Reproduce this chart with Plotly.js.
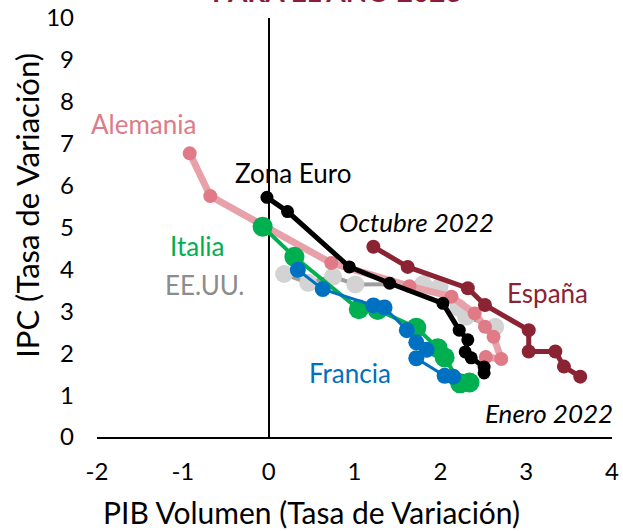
<!DOCTYPE html>
<html>
<head>
<meta charset="utf-8">
<script src="https://cdn.plot.ly/plotly-3.0.1.min.js"></script>
<style>html,body{margin:0;padding:0;background:#fff;}#chart{width:623px;height:531px;}</style>
</head>
<body>
<div id="chart"></div>
<script>
// PIB (x) vs IPC (y) forecast paths for 2023
const eeuuX = [0.18, 0.46, 0.75, 1.01, 1.80, 1.99, 2.21, 2.30, 2.64];
const eeuuY = [3.89, 3.68, 3.83, 3.64, 3.65, 3.58, 3.09, 2.87, 2.63];

const alemaniaX = [-0.92, -0.68, 0.73, 1.64, 2.13, 2.40, 2.52, 2.62, 2.71, 2.53];
const alemaniaY = [6.77, 5.75, 4.15, 3.60, 3.35, 2.95, 2.63, 2.39, 1.86, 1.91];

const espanaX = [1.22, 1.62, 2.32, 2.52, 3.03, 3.03, 3.34, 3.44, 3.63];
const espanaY = [4.54, 4.06, 3.55, 3.15, 2.55, 2.04, 2.04, 1.68, 1.44];

const zonaEuroX = [-0.02, 0.22, 0.94, 1.41, 2.03, 2.22, 2.32, 2.29, 2.36, 2.51, 2.51];
const zonaEuroY = [5.72, 5.38, 4.06, 3.67, 3.19, 2.55, 2.32, 2.03, 1.89, 1.67, 1.53];

const italiaX = [-0.07, 0.30, 1.05, 1.27, 1.72, 1.97, 2.05, 2.23, 2.34];
const italiaY = [5.02, 4.30, 3.05, 3.03, 2.61, 2.12, 1.90, 1.28, 1.30];

const franciaX = [0.34, 0.63, 1.22, 1.35, 1.61, 1.72, 1.84, 1.72, 2.05, 2.15];
const franciaY = [3.99, 3.53, 3.14, 3.09, 2.55, 2.26, 2.08, 1.88, 1.46, 1.44];

const xTickVals = [-2, -1, 0, 1, 2, 3, 4];
const xTickText = ['-2', '-1', '0', '1', '2', '3', '4'];
const yTickVals = [0, 1, 2, 3, 4, 5, 6, 7, 8, 9, 10];
const yTickText = ['0', '1', '2', '3', '4', '5', '6', '7', '8', '9', '10'];

const FONT = 'Lato, "Open Sans", sans-serif';

function series(x, y, lineColor, markerColor, lw, ms, name) {
  return {
    type: 'scatter', mode: 'lines+markers', name: name, x: x, y: y,
    line: {color: lineColor, width: lw},
    marker: {color: markerColor, size: ms},
    hoverinfo: 'skip', cliponaxis: false
  };
}

const data = [
  series(eeuuX, eeuuY, '#9E9E9E', '#D3D3D3', 4, 18, 'EE.UU.'),
  series(alemaniaX, alemaniaY, '#E8A1A9', '#E07A86', 7, 14, 'Alemania'),
  series(espanaX, espanaY, '#8B2332', '#8B2332', 5, 14, 'España'),
  series(zonaEuroX, zonaEuroY, '#000000', '#000000', 5, 13, 'Zona Euro'),
  series(italiaX, italiaY, '#00B050', '#00B050', 4, 20, 'Italia'),
  series(franciaX, franciaY, '#0070C0', '#0070C0', 3, 16, 'Francia')
];

function lab(text, x, y, color, italic) {
  return {
    text: italic ? '<i>' + text + '</i>' : text,
    x: x, y: y, xref: 'x', yref: 'y', showarrow: false,
    font: {family: FONT, size: 26, color: color},
    xanchor: 'center', yanchor: 'middle'
  };
}

const layout = {
  width: 623, height: 531,
  margin: {l: 97, r: 11, t: 18, b: 94},
  paper_bgcolor: '#ffffff', plot_bgcolor: '#ffffff',
  showlegend: false,
  font: {family: FONT, color: '#000'},
  xaxis: {
    range: [-2, 4], tickvals: xTickVals, ticktext: xTickText,
    showgrid: false, zeroline: true, zerolinecolor: '#000', zerolinewidth: 2,
    showline: true, linecolor: '#000', linewidth: 2,
    ticks: '', ticklabelstandoff: 12,
    tickfont: {family: FONT, size: 24, color: '#000'}
  },
  yaxis: {
    range: [0, 10], tickvals: yTickVals, ticktext: yTickText,
    showgrid: false, zeroline: false, showline: false,
    ticks: '', ticklabelstandoff: 22,
    tickfont: {family: FONT, size: 24, color: '#000'}
  },
  annotations: [
    lab('Alemania', -1.46, 7.47, '#E07A86', false),
    lab('Zona Euro', 0.28, 6.30, '#000000', false),
    lab('Octubre 2022', 1.72, 5.13, '#000000', true),
    lab('Italia', -0.84, 4.56, '#00B050', false),
    lab('EE.UU.', -0.74, 3.63, '#8C8C8C', false),
    lab('España', 3.25, 3.44, '#8B2332', false),
    lab('Francia', 0.95, 1.53, '#0070C0', false),
    lab('Enero 2022', 3.27, 0.57, '#000000', true),
    {
      text: 'IPC (Tasa de Variación)', textangle: -90,
      x: -0.136, y: 0.554, xref: 'paper', yref: 'paper', showarrow: false,
      font: {family: FONT, size: 31, color: '#000'}, xanchor: 'center', yanchor: 'middle'
    },
    {
      text: 'PIB Volumen (Tasa de Variación)',
      x: 0.417, y: -0.179, xref: 'paper', yref: 'paper', showarrow: false,
      font: {family: FONT, size: 30, color: '#000'}, xanchor: 'center', yanchor: 'middle'
    },
    {
      text: '<b>PARA EL AÑO 2023</b>',
      x: 0.466, y: 1.02, xref: 'paper', yref: 'paper', showarrow: false,
      font: {family: FONT, size: 28, color: '#8B1A3B'}, xanchor: 'center', yanchor: 'bottom'
    }
  ]
};

Plotly.newPlot('chart', data, layout, {staticPlot: true, displayModeBar: false});
</script>
</body>
</html>
